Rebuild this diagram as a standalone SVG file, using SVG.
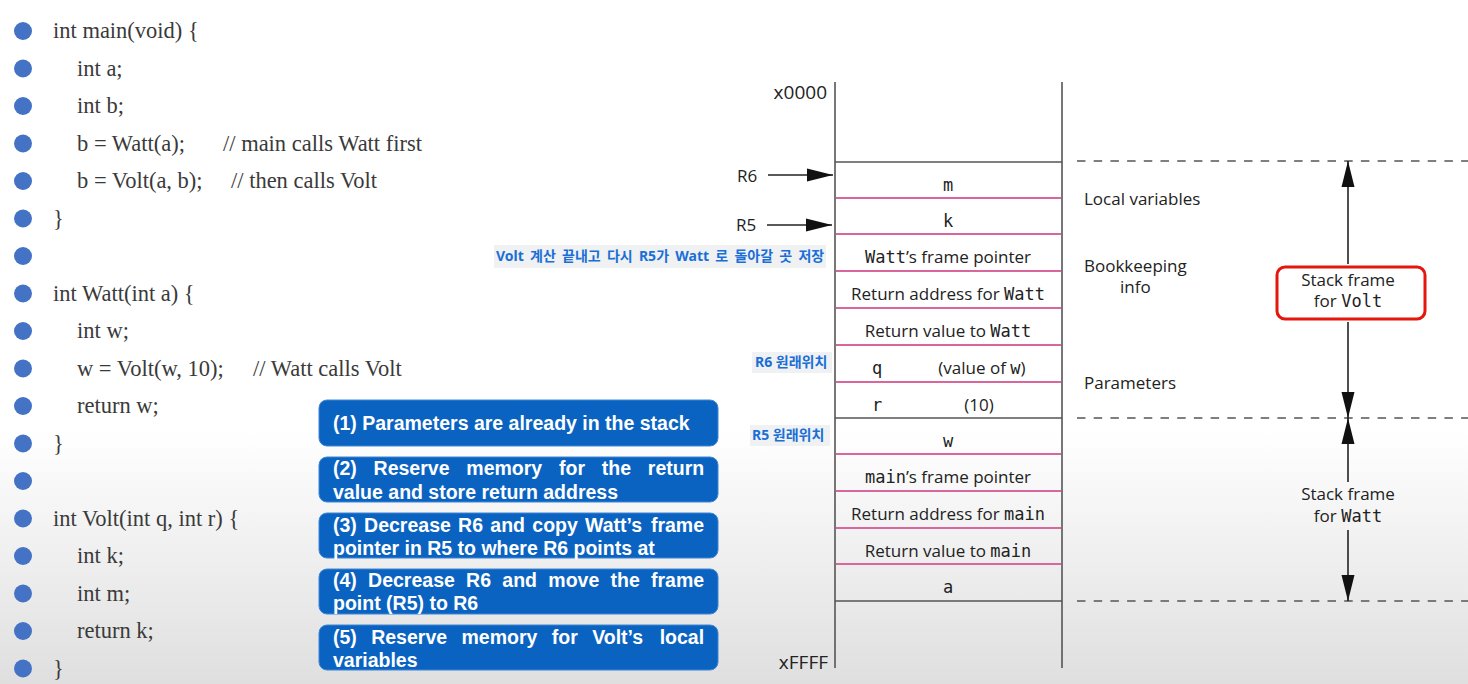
<svg xmlns="http://www.w3.org/2000/svg" width="1468" height="684" viewBox="0 0 1468 684">
<defs>
<linearGradient id="bg" x1="0" y1="0" x2="0" y2="1">
<stop offset="0" stop-color="#ffffff"/>
<stop offset="0.63" stop-color="#ffffff"/>
<stop offset="1" stop-color="#dfdfdf"/>
</linearGradient>
<marker id="ah" markerUnits="userSpaceOnUse" markerWidth="27" markerHeight="14" refX="26" refY="7" orient="auto" viewBox="0 0 27 14">
<path d="M0,0.5 L26,7 L0,13.5 z" fill="#111"/>
</marker>
<style>
.code{font-family:"Liberation Serif","Times New Roman",serif;font-size:22.5px;fill:#3a3a3a}
.bul{fill:#4472c4}
.box{fill:#0b63c1;stroke:#3f86d6;stroke-width:1}
.bt{font-family:"Liberation Sans",Arial,sans-serif;font-weight:bold;font-size:19.5px;fill:#ffffff}
.cell{font-family:"Open Sans","Liberation Sans",sans-serif;font-size:17px;fill:#222;text-anchor:middle}
.mono{font-family:"DejaVu Sans Mono","Liberation Mono",monospace;font-size:17px}
.lbl{font-family:"Open Sans","Liberation Sans",sans-serif;font-size:17px;fill:#222}
.addr{font-family:"Open Sans","Liberation Sans",sans-serif;font-size:19px;fill:#222;text-anchor:end}
.kr{font-family:"Noto Sans","Noto Sans CJK KR",sans-serif;font-size:14px;font-weight:bold;fill:#1a6fd6}
.krbg{fill:#f0f1f3}
.pink{stroke:#d9679e;stroke-width:2}
.gray{stroke:#555;stroke-width:1.6}
.dash{stroke:#555;stroke-width:1.6;stroke-dasharray:8.5 8.2}
.arr{stroke:#222;stroke-width:1.6;fill:none;marker-end:url(#ah)}
</style>
</defs>
<rect width="1468" height="684" fill="url(#bg)"/>

<g id="code">
<g class="bul">
<circle cx="23" cy="31" r="9"/><circle cx="23" cy="68.5" r="9"/><circle cx="23" cy="106" r="9"/><circle cx="23" cy="143.5" r="9"/><circle cx="23" cy="181" r="9"/><circle cx="23" cy="218.5" r="9"/><circle cx="23" cy="256" r="9"/><circle cx="23" cy="293.5" r="9"/><circle cx="23" cy="331" r="9"/><circle cx="23" cy="368.5" r="9"/><circle cx="23" cy="406" r="9"/><circle cx="23" cy="443.5" r="9"/><circle cx="23" cy="481" r="9"/><circle cx="23" cy="518.5" r="9"/><circle cx="23" cy="556" r="9"/><circle cx="23" cy="593.5" r="9"/><circle cx="23" cy="631" r="9"/><circle cx="23" cy="668.5" r="9"/>
</g>
<text class="code" x="53" y="38">int main(void) {</text>
<text class="code" x="77" y="75.5">int a;</text>
<text class="code" x="77" y="113">int b;</text>
<text class="code" x="77" y="150.5">b = Watt(a);</text>
<text class="code" x="223" y="150.5">// main calls Watt first</text>
<text class="code" x="77" y="188">b = Volt(a, b);</text>
<text class="code" x="231" y="188">// then calls Volt</text>
<text class="code" x="53" y="225.5">}</text>
<text class="code" x="53" y="300.5">int Watt(int a) {</text>
<text class="code" x="77" y="338">int w;</text>
<text class="code" x="77" y="375.5">w = Volt(w, 10);</text>
<text class="code" x="253" y="375.5">// Watt calls Volt</text>
<text class="code" x="77" y="413">return w;</text>
<text class="code" x="53" y="450.5">}</text>
<text class="code" x="53" y="525.5">int Volt(int q, int r) {</text>
<text class="code" x="77" y="563">int k;</text>
<text class="code" x="77" y="600.5">int m;</text>
<text class="code" x="77" y="638">return k;</text>
<text class="code" x="53" y="675.5">}</text>
</g>

<g id="step1"><rect class="box" x="319" y="400" width="399" height="46" rx="8"/>
<text class="bt" x="333" y="430">(1) Parameters are already in the stack</text></g>
<g id="step2"><rect class="box" x="319" y="457" width="399" height="45" rx="8"/>
<text class="bt" y="475"><tspan x="333">(2)</tspan><tspan x="373.6">Reserve</tspan><tspan x="466.3">memory</tspan><tspan x="559">for</tspan><tspan x="601.8">the</tspan><tspan x="647.8">return</tspan></text>
<text class="bt" x="333" y="499">value and store return address</text></g>
<g id="step3"><rect class="box" x="319" y="513" width="399" height="45" rx="8"/>
<text class="bt" y="532"><tspan x="333">(3)</tspan><tspan x="364.1">Decrease</tspan><tspan x="458.1">R6</tspan><tspan x="490.3">and</tspan><tspan x="532.3">copy</tspan><tspan x="585.1">Watt’s</tspan><tspan x="650.9">frame</tspan></text>
<text class="bt" x="333" y="555">pointer in R5 to where R6 points at</text></g>
<g id="step4"><rect class="box" x="319" y="569" width="399" height="45" rx="8"/>
<text class="bt" y="587"><tspan x="333">(4)</tspan><tspan x="368.1">Decrease</tspan><tspan x="466.1">R6</tspan><tspan x="502.3">and</tspan><tspan x="548.3">move</tspan><tspan x="610.5">the</tspan><tspan x="651">frame</tspan></text>
<text class="bt" x="333" y="610">point (R5) to R6</text></g>
<g id="step5"><rect class="box" x="319" y="625" width="399" height="45" rx="8"/>
<text class="bt" y="644"><tspan x="333">(5)</tspan><tspan x="371.2">Reserve</tspan><tspan x="461.5">memory</tspan><tspan x="551.8">for</tspan><tspan x="592.2">Volt’s</tspan><tspan x="659.7">local</tspan></text>
<text class="bt" x="333" y="667">variables</text></g>

<g id="stack">
<line class="gray" x1="835" y1="82" x2="835" y2="668"/>
<line class="gray" x1="1062" y1="82" x2="1062" y2="668"/>
<line class="gray" x1="835" y1="162" x2="1062" y2="162"/>
<line class="pink" x1="836" y1="198" x2="1061" y2="198"/>
<line class="pink" x1="836" y1="234" x2="1061" y2="234"/>
<line class="pink" x1="836" y1="271" x2="1061" y2="271"/>
<line class="pink" x1="836" y1="308" x2="1061" y2="308"/>
<line class="pink" x1="836" y1="345" x2="1061" y2="345"/>
<line class="pink" x1="836" y1="382" x2="1061" y2="382"/>
<line class="gray" x1="835" y1="418" x2="1062" y2="418"/>
<line class="pink" x1="836" y1="454" x2="1061" y2="454"/>
<line class="pink" x1="836" y1="491" x2="1061" y2="491"/>
<line class="pink" x1="836" y1="528" x2="1061" y2="528"/>
<line class="pink" x1="836" y1="564" x2="1061" y2="564"/>
<line class="gray" x1="835" y1="601" x2="1062" y2="601"/>
<text class="addr" x="827" y="99">x0000</text>
<text class="addr" x="828" y="669">xFFFF</text>
</g>

<g id="cells">
<text class="cell" x="948" y="191"><tspan class="mono">m</tspan></text>
<text class="cell" x="948" y="227"><tspan class="mono">k</tspan></text>
<text class="cell" x="948" y="263"><tspan class="mono">Watt</tspan>’s frame pointer</text>
<text class="cell" x="948" y="300">Return address for <tspan class="mono">Watt</tspan></text>
<text class="cell" x="948" y="337">Return value to <tspan class="mono">Watt</tspan></text>
<text class="cell" x="877" y="374"><tspan class="mono">q</tspan></text>
<text class="cell" x="982" y="374">(value of <tspan class="mono">w</tspan>)</text>
<text class="cell" x="877" y="411"><tspan class="mono">r</tspan></text>
<text class="cell" x="979" y="411">(10)</text>
<text class="cell" x="948" y="447"><tspan class="mono">w</tspan></text>
<text class="cell" x="948" y="483"><tspan class="mono">main</tspan>’s frame pointer</text>
<text class="cell" x="948" y="520">Return address for <tspan class="mono">main</tspan></text>
<text class="cell" x="948" y="557">Return value to <tspan class="mono">main</tspan></text>
<text class="cell" x="948" y="593"><tspan class="mono">a</tspan></text>
</g>

<g id="pointers">
<text class="lbl" x="737" y="182">R6</text>
<text class="lbl" x="736" y="231">R5</text>
</g>

<g id="notes">
<rect class="krbg" x="494" y="245" width="332" height="23"/>
<text class="kr" x="496" y="261" word-spacing="2.6">Volt 계산 끝내고 다시 R5가 Watt 로 돌아갈 곳 저장</text>
<rect class="krbg" x="752" y="352" width="80" height="21"/>
<text class="kr" x="755" y="367">R6 원래위치</text>
<rect class="krbg" x="750" y="425" width="80" height="21"/>
<text class="kr" x="752" y="440">R5 원래위치</text>
</g>

<g id="regions">
<text class="lbl" x="1084" y="205">Local variables</text>
<text class="lbl" x="1084" y="272">Bookkeeping</text>
<text class="lbl" x="1120" y="293">info</text>
<text class="lbl" x="1084" y="389">Parameters</text>
</g>

<g id="frame-volt">
<rect x="1277" y="267" width="148" height="52" rx="8" fill="#fff" stroke="#e5170d" stroke-width="3"/>
<text class="lbl" x="1348" y="286" text-anchor="middle">Stack frame</text>
<text class="lbl" x="1348" y="307" text-anchor="middle">for <tspan class="mono">Volt</tspan></text>
</g>
<g id="frame-watt">
<text class="lbl" x="1348" y="500" text-anchor="middle">Stack frame</text>
<text class="lbl" x="1348" y="522" text-anchor="middle">for <tspan class="mono">Watt</tspan></text>
</g>

<g id="connectors">
<line class="dash" x1="1077" y1="161" x2="1468" y2="161"/>
<line class="dash" x1="1077" y1="418" x2="1468" y2="418"/>
<line class="dash" x1="1077" y1="601" x2="1468" y2="601"/>
<line class="arr" x1="768" y1="175" x2="833" y2="175"/>
<line class="arr" x1="767" y1="225" x2="832" y2="225"/>
<line class="arr" x1="1348" y1="264" x2="1348" y2="161"/>
<line class="arr" x1="1348" y1="322" x2="1348" y2="418"/>
<line class="arr" x1="1348" y1="482" x2="1348" y2="418"/>
<line class="arr" x1="1348" y1="530" x2="1348" y2="601"/>
</g>
</svg>
